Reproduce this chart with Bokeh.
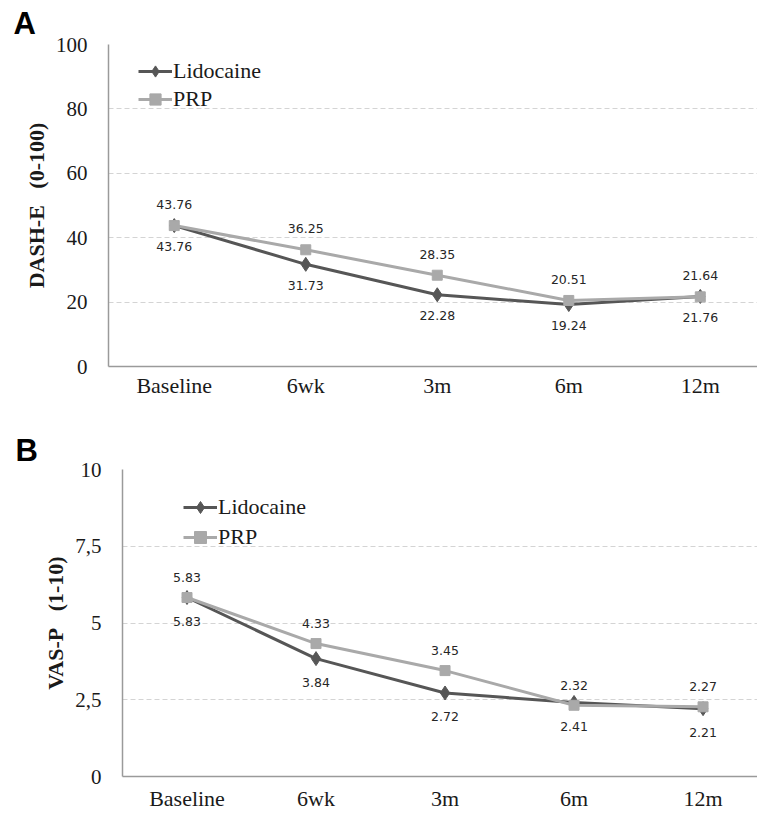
from bokeh.plotting import figure
from bokeh.models import (ColumnDataSource, Range1d, FixedTicker, LabelSet,
                          Legend, LegendItem)
from bokeh.core.properties import value
from bokeh.embed import file_html
from bokeh.resources import INLINE

categories = ["Baseline", "6wk", "3m", "6m", "12m"]
dash_lidocaine = [43.76, 31.73, 22.28, 19.24, 21.76]
dash_prp = [43.76, 36.25, 28.35, 20.51, 21.64]
vas_lidocaine = [5.83, 3.84, 2.72, 2.41, 2.21]
vas_prp = [5.83, 4.33, 3.45, 2.32, 2.27]
dash_ticks = [0, 20, 40, 60, 80, 100]
dash_tick_labels = ["0", "20", "40", "60", "80", "100"]
vas_ticks = [0, 2.5, 5, 7.5, 10]
vas_tick_labels = ["0", "2,5", "5", "7,5", "10"]

LIDO_COLOR = "#565656"
PRP_COLOR = "#a9a9a9"
SERIF = "'Liberation Serif', 'Times New Roman', serif"
LEGEND_FONT = "Times New Roman"
SANS_LBL = "'DejaVu Sans', Verdana, sans-serif"


def make_panel(letter, ylabel, lido, prp, ticks, tick_labels, ymax,
               width, height, border_left, border_top, border_bottom,
               x_end, legend_loc, legend_spacing, lab_up, lab_down,
               tick_standoff, xlab_standoff, letter_offset, letter_standoff):
    p = figure(width=width, height=height, output_backend="svg", toolbar_location=None,
               x_range=Range1d(-0.5, x_end), y_range=Range1d(0, ymax),
               min_border_left=border_left, min_border_top=border_top,
               min_border_bottom=border_bottom, min_border_right=0)
    p.outline_line_color = None
    p.background_fill_color = "white"
    p.border_fill_color = "white"

    p.title.text = letter
    p.title.align = "left"
    p.title.offset = letter_offset
    p.title.standoff = letter_standoff
    p.title.text_font = "Arial"
    p.title.text_font_style = "bold"
    p.title.text_font_size = "31px"
    p.title.text_color = "black"

    xs = list(range(len(categories)))
    src_l = ColumnDataSource(dict(x=xs, y=lido, t=[f"{v:.2f}" for v in lido]))
    src_p = ColumnDataSource(dict(x=xs, y=prp, t=[f"{v:.2f}" for v in prp]))

    l1 = p.line("x", "y", source=src_l, color=LIDO_COLOR, line_width=3)
    m1 = p.scatter("x", "y", source=src_l, marker="diamond", size=14,
                   fill_color=LIDO_COLOR, line_color=LIDO_COLOR)
    l2 = p.line("x", "y", source=src_p, color=PRP_COLOR, line_width=3)
    m2 = p.scatter("x", "y", source=src_p, marker="square", size=10,
                   fill_color=PRP_COLOR, line_color=PRP_COLOR)

    for src, off in ((src_p, lab_up), (src_l, -lab_down)):
        p.add_layout(LabelSet(x="x", y="y", text="t", source=src, y_offset=off,
                              text_align="center", text_baseline="middle",
                              text_font=value(SANS_LBL), text_font_size=value("12.5px"),
                              text_color="#262626"))

    legend = Legend(items=[LegendItem(label="Lidocaine", renderers=[l1, m1]),
                           LegendItem(label="PRP", renderers=[l2, m2])],
                    location=legend_loc, padding=0, margin=0, spacing=0,
                    glyph_width=34, glyph_height=legend_spacing,
                    label_height=legend_spacing, label_standoff=1,
                    label_text_font=LEGEND_FONT, label_text_font_size="22px",
                    label_text_color="#1a1a1a",
                    background_fill_alpha=0, border_line_color=None)
    p.add_layout(legend, "center")

    p.xaxis.ticker = FixedTicker(ticks=xs)
    p.xaxis.major_label_overrides = {i: c for i, c in enumerate(categories)}
    p.yaxis.ticker = FixedTicker(ticks=ticks)
    p.yaxis.major_label_overrides = {float(t): s for t, s in zip(ticks, tick_labels)}
    for ax in (p.xaxis[0], p.yaxis[0]):
        ax.axis_line_color = "#9a9a9a"
        ax.axis_line_width = 1.5
        ax.major_tick_line_color = None
        ax.minor_tick_line_color = None
        ax.major_label_text_font = SERIF
        ax.major_label_text_color = "#1a1a1a"
    p.xaxis.major_label_text_font_size = "22px"
    p.yaxis.major_label_text_font_size = "21px"
    p.xaxis.major_label_standoff = xlab_standoff
    p.yaxis.major_label_standoff = tick_standoff
    p.yaxis.axis_label = ylabel
    p.yaxis.axis_label_text_font = SERIF
    p.yaxis.axis_label_text_font_style = "bold"
    p.yaxis.axis_label_text_font_size = "22px"
    p.yaxis.axis_label_text_color = "#1a1a1a"
    p.yaxis.axis_label_standoff = 4

    p.xgrid.grid_line_color = None
    p.ygrid.grid_line_color = "#d4d4d4"
    p.ygrid.grid_line_dash = "5 3"
    p.ygrid.grid_line_width = 1
    return p


pa = make_panel("A", "DASH-E\u00a0\u00a0\u00a0(0-100)", dash_lidocaine, dash_prp, dash_ticks,
                dash_tick_labels, 100, 757, 402, 108, 44, 36, 4.435, (30, 253), 28,
                21, 21, 15, 0, -95, 7)
pb = make_panel("B", "VAS-P\u00a0\u00a0\u00a0(1-10)", vas_lidocaine, vas_prp, vas_ticks,
                vas_tick_labels, 10, 757, 412, 122, 67, 38, 4.422, (61, 224), 30,
                20, 24, 15, 3, -107, 4)

open("out.html", "w").write(file_html([pa, pb], INLINE))
